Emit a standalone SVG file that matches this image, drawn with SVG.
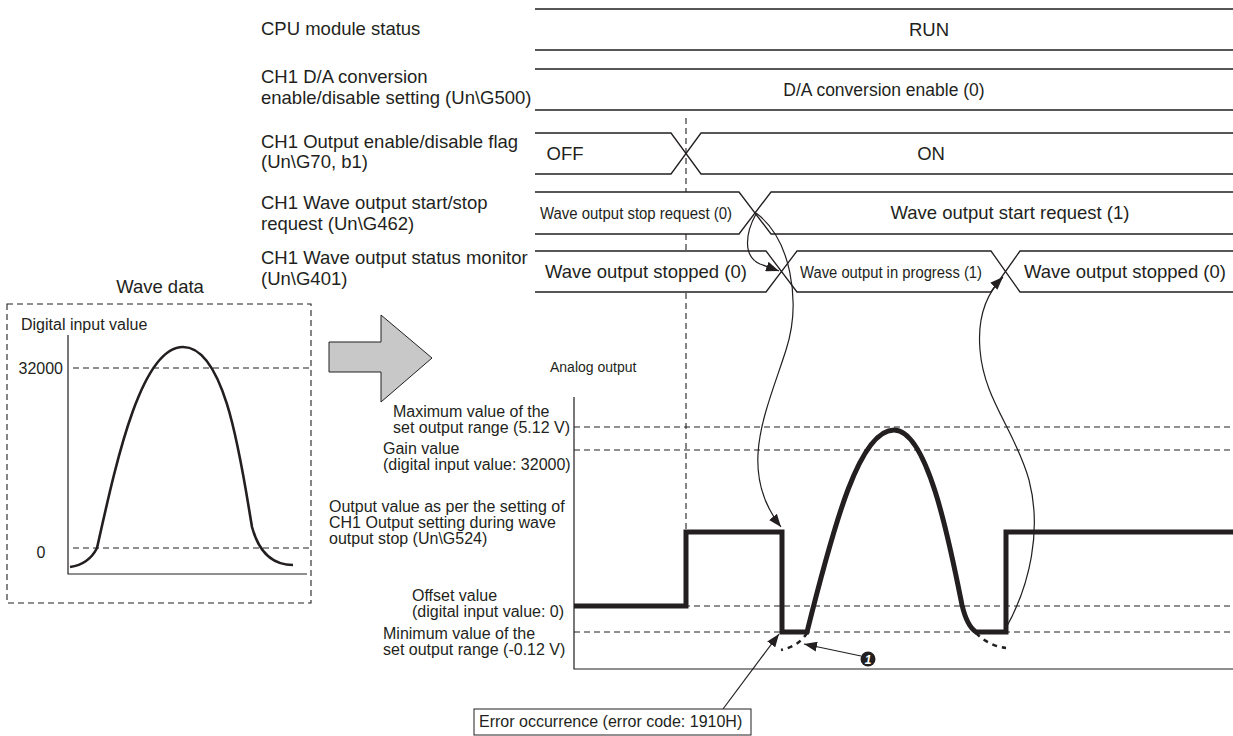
<svg xmlns="http://www.w3.org/2000/svg" width="1233" height="736" viewBox="0 0 1233 736">
<style>
text{font-family:"Liberation Sans",Arial,sans-serif;fill:#231f20}
.lbl{font-size:18.5px}
.sm{font-size:16px}
.ln{fill:none;stroke:#231f20;stroke-width:1.3}
.dash{fill:none;stroke:#231f20;stroke-width:1.1;stroke-dasharray:6 4}
.bold{fill:none;stroke:#231f20;stroke-width:5;stroke-linejoin:miter}
.thin{fill:none;stroke:#231f20;stroke-width:1.2}
</style>
<defs>
<marker id="ah" markerUnits="userSpaceOnUse" markerWidth="14" markerHeight="10" refX="13" refY="5" orient="auto">
<path d="M0,0 L13,5 L0,10 z" fill="#231f20"/>
</marker>
</defs>
<rect width="1233" height="736" fill="#fff"/>

<g id="labels">
<text class="lbl" x="261" y="35">CPU module status</text>
<text class="lbl" x="261" y="83">CH1 D/A conversion</text>
<text class="lbl" x="261" y="104">enable/disable setting (Un\G500)</text>
<text class="lbl" x="261" y="148">CH1 Output enable/disable flag</text>
<text class="lbl" x="261" y="168">(Un\G70, b1)</text>
<text class="lbl" x="261" y="209">CH1 Wave output start/stop</text>
<text class="lbl" x="261" y="230">request (Un\G462)</text>
<text class="lbl" x="261" y="264">CH1 Wave output status monitor</text>
<text class="lbl" x="261" y="285">(Un\G401)</text>
</g>

<g id="row-cpu">
<path class="ln" d="M535,9 H1233 M535,50 H1233"/>
<text class="lbl" x="929" y="36" text-anchor="middle">RUN</text>
</g>
<g id="row-da">
<path class="ln" d="M535,69 H1233 M535,110 H1233"/>
<text x="884" y="96" text-anchor="middle" style="font-size:17.5px">D/A conversion enable (0)</text>
</g>

<path class="dash" d="M686,118 V192 M686,234 V251 M686,293 V532"/>

<g id="row-flag">
<path class="ln" d="M535,133 H671 L701,174 H1233 M535,174 H671 L701,133 H1233"/>
<text class="lbl" x="565" y="160" text-anchor="middle">OFF</text>
<text class="lbl" x="931" y="160" text-anchor="middle">ON</text>
</g>
<g id="row-request">
<path class="ln" d="M535,192 H739 L771,234 H1233 M535,234 H739 L771,192 H1233"/>
<text class="sm" x="540" y="219" textLength="192" lengthAdjust="spacingAndGlyphs">Wave output stop request (0)</text>
<text class="lbl" x="1010" y="219" text-anchor="middle">Wave output start request (1)</text>
</g>
<g id="row-monitor">
<path class="ln" d="M535,251 H766 L797,292 H991 L1020,251 H1233 M535,292 H766 L797,251 H991 L1020,292 H1233"/>
<text class="lbl" x="545" y="278">Wave output stopped (0)</text>
<text class="sm" x="800" y="278" textLength="182" lengthAdjust="spacingAndGlyphs">Wave output in progress (1)</text>
<text class="lbl" x="1125" y="278" text-anchor="middle">Wave output stopped (0)</text>
</g>

<g id="wave-data">
<text class="lbl" x="160" y="293" text-anchor="middle">Wave data</text>
<rect x="7" y="304" width="304" height="299" class="dash"/>
<text class="sm" x="21" y="330">Digital input value</text>
<path class="thin" d="M68,335 V574 H307"/>
<path class="dash" d="M73,368 H310 M73,548 H310"/>
<text class="sm" x="63" y="374" text-anchor="end">32000</text>
<text class="sm" x="41" y="558" text-anchor="middle">0</text>
<path d="M70,567 C84,565 92,558 97,548 C115,468 140,347 183,347 C226,347 241,462 252,527 C259,553 273,565 293,565" fill="none" stroke="#231f20" stroke-width="2.6"/>
</g>

<g id="big-arrow">
<path d="M329,342 H381 V315 L432,358 L381,402 V372 H329 Z" fill="#c8c8c8" stroke="#231f20" stroke-width="1"/>
</g>

<g id="analog">
<text style="font-size:14px" x="550" y="372">Analog output</text>
<path class="thin" d="M574,397 V669 H1233"/>
<path class="dash" d="M574,427 H1233 M574,450 H1233 M574,606 H1233 M574,632 H1233"/>
<text class="sm" x="393" y="417">Maximum value of the</text>
<text class="sm" x="393" y="433">set output range (5.12 V)</text>
<text class="sm" x="383" y="454">Gain value</text>
<text class="sm" x="383" y="470">(digital input value: 32000)</text>
<text class="sm" x="329" y="512">Output value as per the setting of</text>
<text class="sm" x="329" y="528">CH1 Output setting during wave</text>
<text class="sm" x="329" y="544">output stop (Un\G524)</text>
<text class="sm" x="412" y="601">Offset value</text>
<text class="sm" x="412" y="617">(digital input value: 0)</text>
<text class="sm" x="383" y="639">Minimum value of the</text>
<text class="sm" x="383" y="655">set output range (-0.12 V)</text>
<path class="bold" d="M574,606 H686 V532 H782 V632 H807 C835,520 860,430 894,430 C928,430 950,545 962,605 Q967,626 976,632 H1006 V532 H1233"/>
<path d="M807,633 Q799,646 781,650" fill="none" stroke="#231f20" stroke-width="2.5" stroke-dasharray="5 5"/>
<path d="M976,633 Q989,646 1006,648" fill="none" stroke="#231f20" stroke-width="2.5" stroke-dasharray="5 5"/>
</g>

<g id="connectors">
<path class="thin" d="M756,214 C746,232 742,256 760,264 L779,271" marker-end="url(#ah)"/>
<path class="thin" d="M756,213 C790,238 802,300 786,350 C767,410 736,470 781,527" marker-end="url(#ah)"/>
<path class="thin" d="M1006,628 C1030,585 1042,530 1029,480 C1015,430 984,400 980,350 C977,315 988,292 1003,277" marker-end="url(#ah)"/>
<path class="thin" d="M861,656 L804,644" marker-end="url(#ah)"/>
<path class="thin" d="M723,709 L779,634" marker-end="url(#ah)"/>
</g>

<g id="note-1">
<ellipse cx="868" cy="659" rx="7.5" ry="7.5" fill="#231f20"/>
<text x="868" y="664" text-anchor="middle" style="font-size:12px;font-weight:bold;font-style:italic;fill:#fff">1</text>
</g>

<g id="error-box">
<rect x="474" y="709" width="277" height="26" fill="#fff" stroke="#231f20" stroke-width="1"/>
<text class="sm" x="479" y="727">Error occurrence (error code: 1910H)</text>
</g>
</svg>
